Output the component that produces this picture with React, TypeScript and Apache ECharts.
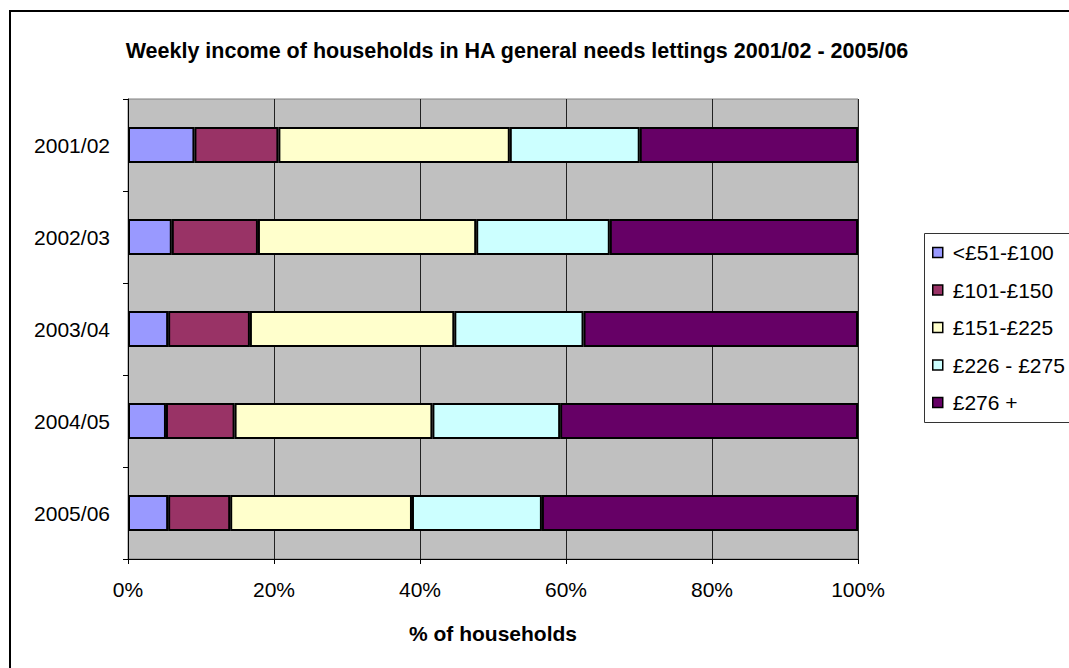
import React, { useEffect, useRef } from "react";
import * as echarts from "echarts";

const categories = ["2001/02", "2002/03", "2003/04", "2004/05", "2005/06"];
const seriesNames = ["<£51-£100", "£101-£150", "£151-£225", "£226 - £275", "£276 +"];
const band1 = [9.1, 6.0, 5.5, 5.2, 5.5];
const band2 = [11.5, 11.8, 11.2, 9.4, 8.5];
const band3 = [31.7, 29.9, 28.0, 27.1, 24.9];
const band4 = [17.8, 18.3, 17.7, 17.5, 17.8];
const band5 = [29.9, 34.0, 37.6, 40.8, 43.3];
const colors = ["#9999FF", "#993366", "#FFFFCC", "#CCFFFF", "#660066"];
const xTicks = [0, 20, 40, 60, 80, 100];

const FONT = "'Liberation Sans', Arial, sans-serif";

export default function App() {
  const ref = useRef<HTMLDivElement>(null);
  useEffect(() => {
    if (!ref.current) return;
    const chart = echarts.init(ref.current, null, { renderer: "svg" });
    const values = [band1, band2, band3, band4, band5];
    chart.setOption({
      animation: false,
      backgroundColor: "#ffffff",
      title: {
        text: "Weekly income of households in HA general needs lettings 2001/02 - 2005/06",
        left: 512,
        top: 35,
        textAlign: "center",
        textStyle: { fontFamily: FONT, fontSize: 21.5, fontWeight: "bold", color: "#000" },
      },
      legend: {
        orient: "vertical",
        left: 932,
        top: 242,
        itemWidth: 10,
        itemHeight: 10,
        itemGap: 16.5,
        padding: 0,
        data: seriesNames,
        icon: "rect",
        itemStyle: { borderColor: "#000", borderWidth: 1.5 },
        textStyle: { fontFamily: FONT, fontSize: 21, color: "#000", padding: [0, 0, 0, 5] },
      },
      grid: { left: 128, top: 99, width: 730, height: 460, show: true, backgroundColor: "#C0C0C0", borderColor: "#808080", borderWidth: 1 },
      xAxis: {
        type: "value",
        min: 0,
        max: 100,
        interval: 20,
        name: "% of households",
        nameLocation: "middle",
        nameGap: 64,
        nameTextStyle: { fontFamily: FONT, fontSize: 21, fontWeight: "bold", color: "#000" },
        axisLine: { show: true, lineStyle: { color: "#000", width: 1 } },
        axisTick: { show: true, length: 5, lineStyle: { color: "#000" } },
        axisLabel: {
          fontFamily: FONT,
          fontSize: 21,
          color: "#000",
          margin: 20,
          formatter: (v: number) => (xTicks.includes(v) ? v + "%" : ""),
        },
        splitLine: { show: true, lineStyle: { color: "#222", width: 1 } },
      },
      yAxis: {
        type: "category",
        data: categories,
        inverse: true,
        axisLine: { show: true, lineStyle: { color: "#000", width: 1 } },
        axisTick: { show: true, length: 5, lineStyle: { color: "#000" } },
        axisLabel: { fontFamily: FONT, fontSize: 21, color: "#000", margin: 18 },
        splitLine: { show: false },
      },
      graphic: [
        {
          type: "rect",
          shape: { x: 10, y: 11, width: 1200, height: 1000 },
          style: { fill: "none", stroke: "#000", lineWidth: 2 },
          silent: true,
        },
        {
          type: "rect",
          shape: { x: 924.5, y: 233.5, width: 200, height: 189 },
          style: { fill: "none", stroke: "#333", lineWidth: 1 },
          silent: true,
        },
      ],
      series: seriesNames.map((name, i) => ({
        name,
        type: "bar",
        stack: "total",
        data: values[i],
        barWidth: "39%",
        itemStyle: { color: colors[i], borderColor: "#000", borderWidth: 2 },
      })),
    });
    return () => chart.dispose();
  }, []);
  return <div ref={ref} style={{ position: "fixed", left: 0, top: 0, width: 1069, height: 668 }} />;
}
